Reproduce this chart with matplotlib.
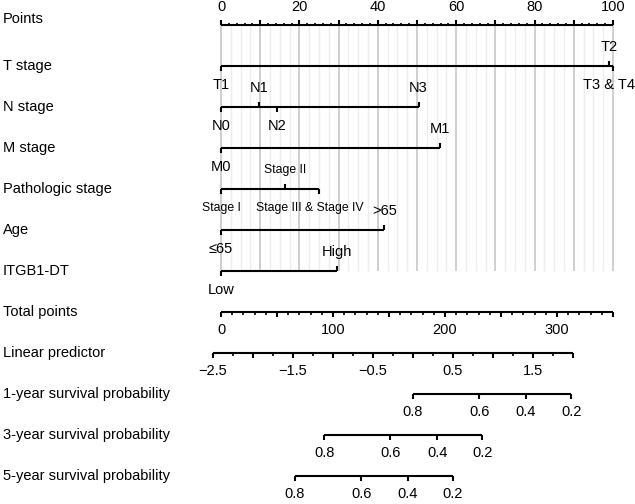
import numpy as np
import matplotlib
matplotlib.use("Agg")
import matplotlib.pyplot as plt
from matplotlib.transforms import blended_transform_factory

plt.rcParams["font.family"] = ["Liberation Sans", "DejaVu Sans"]

# // Escala de pontos (0-100)
points_max = 100
points_labels = [0, 20, 40, 60, 80, 100]

# // Variaveis do modelo: niveis, pontos e lado do rotulo (1 = abaixo, -1 = acima)
var_names = ["T stage", "N stage", "M stage", "Pathologic stage", "Age", "ITGB1-DT"]
t_levels = ["T1", "T2", "T3 & T4"]
t_points = [0, 99.1, 100]
t_side = [1, -1, 1]
n_levels = ["N0", "N1", "N2", "N3"]
n_points = [0, 9.6, 14.3, 50.4]
n_side = [1, -1, 1, -1]
m_levels = ["M0", "M1"]
m_points = [0, 55.9]
m_side = [1, -1]
stage_levels = ["Stage I", "Stage II", "Stage III & Stage IV"]
stage_points = [0, 16.4, 24.9]
stage_side = [1, -1, 1]
age_levels = ["\u226465", ">65"]
age_points = [0, 41.7]
age_side = [1, -1]
itgb_levels = ["Low", "High"]
itgb_points = [0, 29.5]
itgb_side = [1, -1]

# // Pontos totais e preditor linear
total_max = 350
total_labels = [0, 100, 200, 300]
lp_intercept = -2.40
lp_slope = 0.014
lp_min, lp_max = -2.5, 2.0
lp_labels = [-2.5, -1.5, -0.5, 0.5, 1.5]

# // Sobrevida: S(t) = S0(t) ** exp(lp)
surv_names = ["1-year survival probability", "3-year survival probability",
              "5-year survival probability"]
surv_base = [0.80, 0.508, 0.377]
surv_ticks = [0.8, 0.6, 0.4, 0.2]


def tp_to_x(tp):
    return np.asarray(tp, dtype=float) * points_max / total_max


def lp_to_x(lp):
    return tp_to_x((np.asarray(lp, dtype=float) - lp_intercept) / lp_slope)


def surv_to_x(s, s0):
    s = np.asarray(s, dtype=float)
    return lp_to_x(np.log(np.log(s) / np.log(s0)))


fig = plt.figure(figsize=(6.35, 5.04), dpi=100)
ax = fig.add_axes([0, 0, 1, 1])
ax.set_xlim(-221 / 3.92, (635 - 221) / 3.92)
ax.set_ylim(504, 0)
ax.axis("off")

fs = 10.5
lw = 1.5
row_y = [25 + 41 * i for i in range(12)]
name_tr = blended_transform_factory(ax.transAxes, ax.transData)


def name(txt, y):
    ax.text(3 / 635, y, txt, transform=name_tr, ha="left", va="center", fontsize=fs)


def scale(x_major, x_minor, y, direction, labels_x=None, labels=None):
    xs_all = np.concatenate([x_major, x_minor]) if len(x_minor) else x_major
    ax.plot([xs_all.min(), xs_all.max()], [y, y], color="black", lw=lw,
            solid_capstyle="butt")
    ax.vlines(x_major, y, y + direction * 5, color="black", lw=lw)
    if len(x_minor):
        ax.vlines(x_minor, y, y + direction * 2.5, color="black", lw=lw * 0.8)
    if labels is not None:
        for xv, lab in zip(labels_x, labels):
            ax.text(xv, y + direction * 18, lab, ha="center", va="center", fontsize=fs)


# // Grade vertical
for g in np.arange(0, points_max + 0.01, 2.5):
    dark = abs(g % 10) < 1e-9
    ax.vlines(g, row_y[0], row_y[6], color="#cccccc" if dark else "#ededed",
              lw=1.3 if dark else 1.0, zorder=0)

# // Eixo de pontos
name("Points", row_y[0] - 6)
all_p = np.arange(0, points_max + 0.01, 2)
maj_p = all_p[np.isclose(all_p % 10, 0)]
min_p = all_p[~np.isclose(all_p % 10, 0)]
scale(maj_p, min_p, row_y[0], -1, points_labels, [str(v) for v in points_labels])

# // Variaveis
var_data = [(t_levels, t_points, t_side), (n_levels, n_points, n_side),
            (m_levels, m_points, m_side), (stage_levels, stage_points, stage_side),
            (age_levels, age_points, age_side), (itgb_levels, itgb_points, itgb_side)]
for i, (vname, (levels, pts, sides)) in enumerate(zip(var_names, var_data)):
    y = row_y[i + 1]
    name(vname, y)
    ax.plot([min(pts), max(pts)], [y, y], color="black", lw=lw, solid_capstyle="butt")
    lfs = 8.8 if vname == "Pathologic stage" else fs
    for lab, p, s in zip(levels, pts, sides):
        ax.vlines(p, y, y + s * 5, color="black", lw=lw)
        if lab == "T3 & T4":
            # // rotulo encostado na borda direita, como no original
            ax.text(1.0, y + s * 19, lab, transform=name_tr, ha="right",
                    va="center", fontsize=lfs)
        elif lab == "Stage III & Stage IV":
            ax.annotate(lab, (p, y + s * 19), xytext=(-6.5, 0),
                        textcoords="offset points", ha="center", va="center",
                        fontsize=lfs)
        else:
            ax.text(p, y + s * 19, lab, ha="center", va="center", fontsize=lfs)

# // Pontos totais
y = row_y[7]
name("Total points", y)
all_tp = np.arange(0, total_max + 0.01, 10)
maj_tp = all_tp[np.isclose(all_tp % 50, 0)]
min_tp = all_tp[~np.isclose(all_tp % 50, 0)]
scale(tp_to_x(maj_tp), tp_to_x(min_tp), y, 1, tp_to_x(total_labels),
      [str(v) for v in total_labels])

# // Preditor linear
y = row_y[8]
name("Linear predictor", y)
all_lp = np.arange(lp_min, lp_max + 0.001, 0.25)
maj_lp = all_lp[np.isclose((all_lp * 2) % 1, 0)]
min_lp = all_lp[~np.isclose((all_lp * 2) % 1, 0)]
scale(lp_to_x(maj_lp), lp_to_x(min_lp), y, 1, lp_to_x(lp_labels),
      [f"{v:.1f}".replace("-", "\u2212") for v in lp_labels])

# // Probabilidades de sobrevida
for j, (sname, s0) in enumerate(zip(surv_names, surv_base)):
    y = row_y[9 + j]
    name(sname, y)
    xs = surv_to_x(surv_ticks, s0)
    scale(xs, np.array([]), y, 1, xs, [f"{v:.1f}" for v in surv_ticks])

fig.savefig("out.png", dpi=100)
